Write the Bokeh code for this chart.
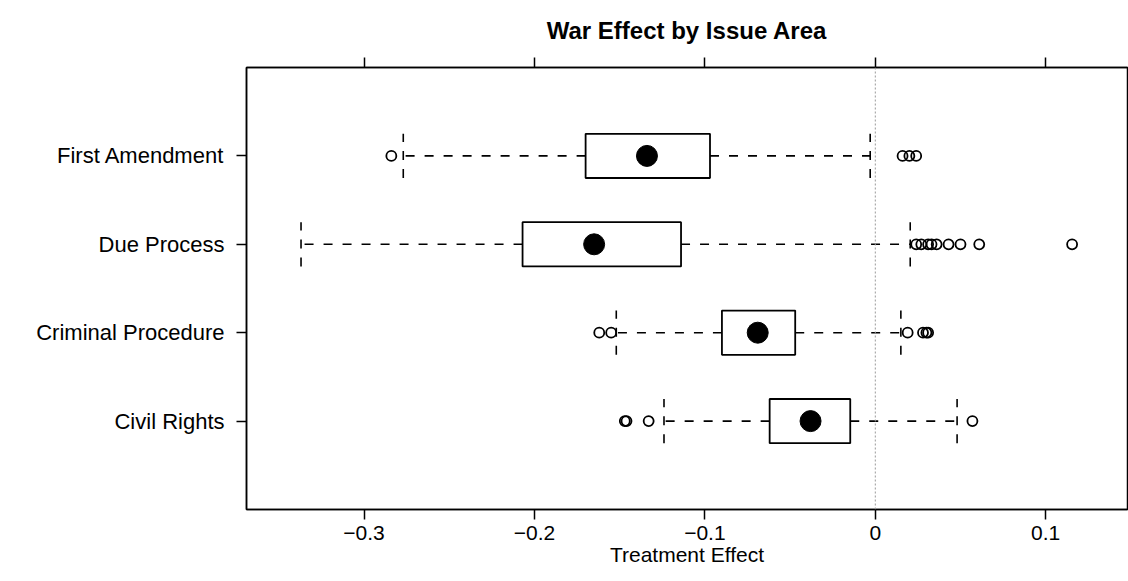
from bokeh.plotting import figure
from bokeh.models import Range1d, FixedTicker, LinearAxis, Span, ColumnDataSource
from bokeh.embed import file_html
from bokeh.resources import INLINE

# categories from bottom to top
categories = ["Civil Rights", "Criminal Procedure", "Due Process", "First Amendment"]
lower_whisker = [-0.124, -0.152, -0.337, -0.277]
q1 = [-0.062, -0.090, -0.207, -0.170]
median = [-0.038, -0.069, -0.165, -0.134]
q3 = [-0.0147, -0.047, -0.114, -0.097]
upper_whisker = [0.048, 0.015, 0.0205, -0.003]
outliers = [
    [-0.147, -0.146, -0.133, 0.057],
    [-0.162, -0.155, 0.019, 0.028, 0.030, 0.031],
    [0.024, 0.027, 0.031, 0.033, 0.036, 0.043, 0.050, 0.061, 0.1155],
    [-0.284, 0.016, 0.020, 0.024],
]
x_ticks = [-0.3, -0.2, -0.1, 0.0, 0.1]
x_tick_labels = ["\u22120.3", "\u22120.2", "\u22120.1", "0", "0.1"]

FONT = "Liberation Sans"

p = figure(width=1128, height=581,
           x_range=Range1d(-0.369, 0.148), y_range=Range1d(0, 5),
           output_backend="svg", toolbar_location=None,
           min_border_left=246, min_border_right=1,
           min_border_top=66, min_border_bottom=72)

p.grid.visible = False
p.outline_line_color = "black"
p.outline_line_width = 1.5
p.background_fill_color = "white"
p.border_fill_color = "white"

p.title.text = "War Effect by Issue Area"
p.title.align = "center"
p.title.text_font = FONT
p.title.text_font_style = "bold"
p.title.text_font_size = "24px"
p.title.text_color = "black"
p.title.standoff = 28

ys = [i + 1 for i in range(len(categories))]

# zero reference line
p.add_layout(Span(location=0, dimension="height", line_color="#999999",
                  line_dash="2 2", line_width=1))

# whiskers
wsrc = ColumnDataSource(dict(
    x0=q1 + q3, x1=lower_whisker + upper_whisker, y=ys + ys))
p.segment(x0="x0", y0="y", x1="x1", y1="y", source=wsrc,
          line_color="black", line_width=1.6, line_dash="9 10")
csrc = ColumnDataSource(dict(
    x=lower_whisker + upper_whisker,
    y0=[y - 0.25 for y in ys] * 2, y1=[y + 0.25 for y in ys] * 2))
p.segment(x0="x", y0="y0", x1="x", y1="y1", source=csrc,
          line_color="black", line_width=1.6, line_dash="9 9")

# boxes
bsrc = ColumnDataSource(dict(left=q1, right=q3,
                             bottom=[y - 0.25 for y in ys],
                             top=[y + 0.25 for y in ys]))
p.quad(left="left", right="right", bottom="bottom", top="top", source=bsrc,
       fill_color="white", line_color="black", line_width=1.8)

# medians
p.scatter(x=median, y=ys, marker="circle", size=21,
          fill_color="black", line_color="black")

# outliers
ox, oy = [], []
for y, outs in zip(ys, outliers):
    for v in outs:
        ox.append(v)
        oy.append(y)
p.scatter(x=ox, y=oy, marker="circle", size=10, fill_alpha=0,
          line_color="black", line_width=1.8)

# axes
for ax in [p.xaxis[0], p.yaxis[0]]:
    ax.axis_line_color = "black"
    ax.axis_line_width = 1.5
    ax.major_tick_line_width = 1.5
    ax.major_tick_line_color = "black"
    ax.major_tick_out = 10
    ax.major_tick_in = 0
    ax.minor_tick_line_color = None
    ax.major_label_text_font = FONT
    ax.major_label_text_font_size = "21px"
    ax.major_label_text_color = "black"

p.xaxis[0].ticker = FixedTicker(ticks=x_ticks)
p.xaxis[0].major_label_overrides = {t: l for t, l in zip(x_ticks, x_tick_labels)}
p.xaxis[0].axis_label = "Treatment Effect"
p.xaxis[0].axis_label_text_font = FONT
p.xaxis[0].axis_label_text_font_style = "normal"
p.xaxis[0].axis_label_text_font_size = "21px"
p.xaxis[0].axis_label_text_color = "black"
p.xaxis[0].axis_label_standoff = 0
p.xaxis[0].major_label_standoff = 6

p.yaxis[0].ticker = FixedTicker(ticks=[float(y) for y in ys])
p.yaxis[0].major_label_overrides = {float(y): c for y, c in zip(ys, categories)}
p.yaxis[0].major_label_text_font_size = "22px"
p.yaxis[0].major_label_standoff = 12

top = LinearAxis(ticker=FixedTicker(ticks=x_ticks),
                 major_label_overrides={t: "" for t in x_ticks},
                 axis_line_color="black", axis_line_width=1.5,
                 major_tick_line_width=1.5, major_tick_out=10, major_tick_in=0,
                 minor_tick_line_color=None, major_label_text_font_size="1px",
                 major_label_standoff=0)
p.add_layout(top, "above")

open("out.html", "w").write(file_html(p, INLINE))
